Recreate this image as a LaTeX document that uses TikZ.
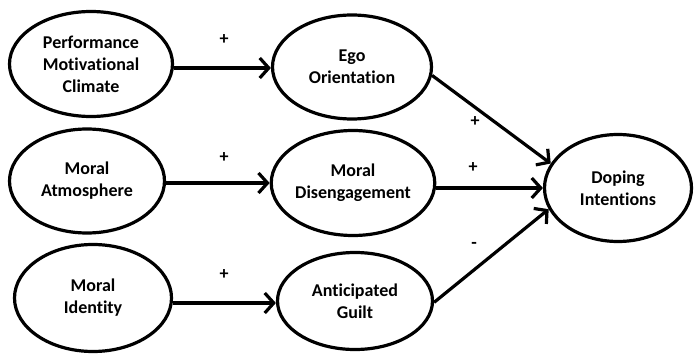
\documentclass[tikz,border=0pt]{standalone}
\usepackage{fontspec}
\setmainfont{Carlito}[Ligatures=NoCommon]
\usetikzlibrary{arrows.meta,shapes.geometric}
\begin{document}
\begin{tikzpicture}[x=1pt,y=-1pt,
  var/.style={draw,line width=3.2pt,ellipse,inner sep=0pt,align=center,font=\bfseries\fontsize{18}{22}\selectfont},
  conn/.style={line width=3.2pt,-{Straight Barb[length=9pt,width=20pt,line width=3.2pt]}},
  sign/.style={font=\bfseries\fontsize{18}{22}\selectfont}]
\useasboundingbox (0,0) rectangle (695,358);
\node[var,minimum width=163pt,minimum height=105pt] (pmc) at (91,64) {Performance\\Motivational\\Climate};
\node[var,minimum width=155pt,minimum height=104pt] (ma) at (87,181) {Moral\\Atmosphere};
\node[var,minimum width=157pt,minimum height=107pt] (mi) at (93,298) {Moral\\Identity};
\node[var,minimum width=159pt,minimum height=104pt] (ego) at (352,67) {Ego\\Orientation};
\node[var,minimum width=157pt,minimum height=105pt] (md) at (353,183) {Moral\\Disengagement};
\node[var,minimum width=155pt,minimum height=97pt] (ag) at (355,301) {Anticipated\\Guilt};
\node[var,minimum width=147pt,minimum height=107pt] (di) at (618,188) {Doping\\Intentions};
\draw[conn] (pmc.east |- 0,68) -- (ego.west |- 0,68);
\draw[conn] (ma.east |- 0,183) -- (md.west |- 0,183);
\draw[conn] (mi.east |- 0,303) -- (ag.west |- 0,303);
\draw[conn] (ego.-6) -- (di.160);
\draw[conn] (md.east |- 0,188) -- (di.west |- 0,188);
\draw[conn] (ag.-1) -- (di.197);
\node[sign] (s1) at (224,40) {+};
\node[sign] (s2) at (224,158) {+};
\node[sign] (s3) at (224,275) {+};
\node[sign] (s4) at (475,122) {+};
\node[sign] (s5) at (473,168) {+};
\node[sign] (s6) at (474,245) {-};
\end{tikzpicture}
\end{document}
